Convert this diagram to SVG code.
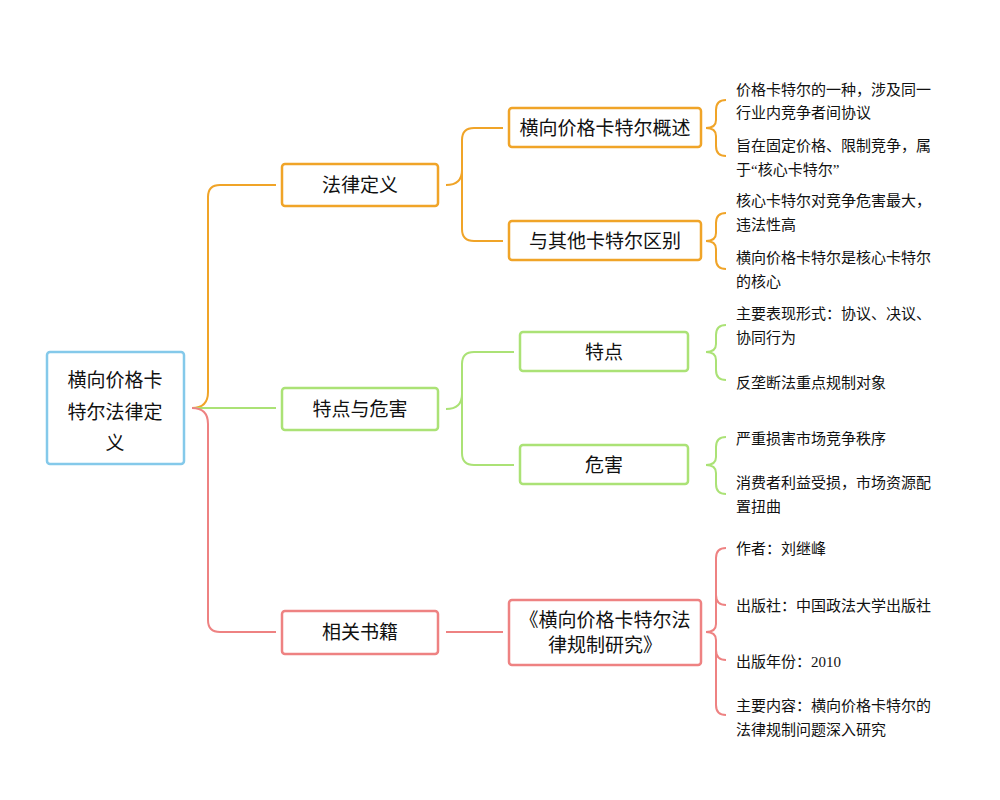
<svg xmlns="http://www.w3.org/2000/svg" width="1000" height="800" viewBox="0 0 1000 800">
<style>
text{font-family:"Liberation Serif","Noto Sans CJK SC",serif;fill:#111}
.n{font-size:19px;text-anchor:middle;dominant-baseline:central}
.l{font-size:15px}
.box{fill:#fff;stroke-width:2.5}
.c{fill:none;stroke-width:2}
.o{stroke:#f0a428}.g{stroke:#abe276}.r{stroke:#ee8282}.b{stroke:#84c9ea}
</style>
<rect width="1000" height="800" fill="#fff"/>
<g id="connectors">
<path class="c o" d="M192,408 Q208,408 208,392 L208,197 Q208,185 220,185 L276,185"/>
<path class="c g" d="M192,408 L276,408"/>
<path class="c r" d="M192,408 Q208,408 208,424 L208,620 Q208,632 220,632 L276,632"/>
<path class="c o" d="M446,185 Q462,185 462,170 L462,140 Q462,128 474,128 L503,128 M462,170 L462,229 Q462,241 474,241 L503,241"/>
<path class="c g" d="M446,409 Q462,409 462,394 L462,364 Q462,352 474,352 L514,352 M462,394 L462,453 Q462,465 474,465 L514,465"/>
<path class="c r" d="M446,632 L503,632"/>
<path class="c o" d="M726,100 Q716,100 716,110 L716,120 Q716,128 706,128 Q716,128 716,136 L716,146 Q716,156 726,156"/>
<path class="c o" d="M726,213 Q716,213 716,223 L716,233 Q716,241 706,241 Q716,241 716,249 L716,259 Q716,269 726,269"/>
<path class="c g" d="M726,325 Q716,325 716,335 L716,344 Q716,352 706,352 Q716,352 716,360 L716,370 Q716,380 726,380"/>
<path class="c g" d="M726,437 Q716,437 716,447 L716,457 Q716,465 706,465 Q716,465 716,473 L716,484 Q716,494 726,494"/>
<path class="c r" d="M726,548 Q716,548 716,558 L716,624 Q716,632 706,632 Q716,632 716,640 L716,705 Q716,715 726,715 M716,595 Q716,605 726,605 M716,650 Q716,660 726,660"/>
</g>
<g id="root"><rect class="box b" x="47" y="352" width="137" height="112" rx="3" stroke-width="3"/>
<text class="n" font-size="20" x="115" y="380">横向价格卡</text><text class="n" font-size="20" x="115" y="412">特尔法律定</text><text class="n" font-size="20" x="115" y="443">义</text></g>
<g id="n1"><rect class="box o" x="282" y="164" width="156" height="42" rx="3"/><text class="n" x="360" y="185">法律定义</text></g>
<g id="n2"><rect class="box g" x="282" y="388" width="156" height="42" rx="3"/><text class="n" x="360" y="409">特点与危害</text></g>
<g id="n3"><rect class="box r" x="282" y="611" width="156" height="43" rx="3"/><text class="n" x="360" y="632">相关书籍</text></g>
<g id="n11"><rect class="box o" x="509" y="108" width="192" height="39" rx="3" stroke-width="2"/><text class="n" font-size="17" x="605" y="128">横向价格卡特尔概述</text></g>
<g id="n12"><rect class="box o" x="509" y="221" width="192" height="39" rx="3" stroke-width="2"/><text class="n" font-size="17" x="605" y="241">与其他卡特尔区别</text></g>
<g id="n21"><rect class="box g" x="520" y="332" width="168" height="39" rx="3" stroke-width="2"/><text class="n" font-size="17" x="604" y="352">特点</text></g>
<g id="n22"><rect class="box g" x="520" y="445" width="168" height="39" rx="3" stroke-width="2"/><text class="n" font-size="17" x="604" y="465">危害</text></g>
<g id="n31"><rect class="box r" x="509" y="600" width="192" height="65" rx="3" stroke-width="2"/><text class="n" font-size="17" x="605" y="620">《横向价格卡特尔法</text><text class="n" font-size="17" x="605" y="645">律规制研究》</text></g>
<g id="leaves">
<text class="l" x="736" y="95">价格卡特尔的一种，涉及同一</text><text class="l" x="736" y="118">行业内竞争者间协议</text>
<text class="l" x="736" y="151">旨在固定价格、限制竞争，属</text><text class="l" x="736" y="175">于“核心卡特尔”</text>
<text class="l" x="736" y="206">核心卡特尔对竞争危害最大，</text><text class="l" x="736" y="230">违法性高</text>
<text class="l" x="736" y="263">横向价格卡特尔是核心卡特尔</text><text class="l" x="736" y="287">的核心</text>
<text class="l" x="736" y="319">主要表现形式：协议、决议、</text><text class="l" x="736" y="343">协同行为</text>
<text class="l" x="736" y="388">反垄断法重点规制对象</text>
<text class="l" x="736" y="444">严重损害市场竞争秩序</text>
<text class="l" x="736" y="488">消费者利益受损，市场资源配</text><text class="l" x="736" y="512">置扭曲</text>
<text class="l" x="736" y="554">作者：刘继峰</text>
<text class="l" x="736" y="611">出版社：中国政法大学出版社</text>
<text class="l" x="736" y="667">出版年份：2010</text>
<text class="l" x="736" y="711">主要内容：横向价格卡特尔的</text><text class="l" x="736" y="735">法律规制问题深入研究</text>
</g>
</svg>
